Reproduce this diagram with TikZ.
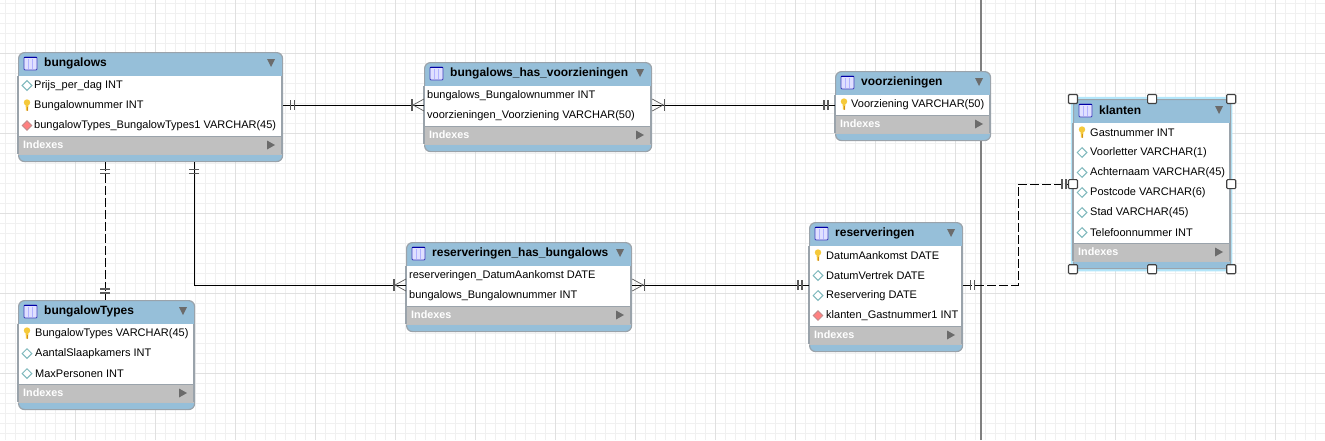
\documentclass[tikz,border=0pt]{standalone}
\usepackage{fontspec}
\setmainfont{Liberation Sans}
\usetikzlibrary{positioning}
\definecolor{headblue}{HTML}{96BFD9}
\definecolor{idxgray}{HTML}{C0C0C0}
\definecolor{edgegray}{HTML}{9AA3AB}
\definecolor{markgray}{HTML}{5A5A5A}
\definecolor{keygold}{HTML}{F5C93A}
\definecolor{colteal}{HTML}{7DB8BC}
\tikzset{
  minorline/.style={draw=black!6,line width=1pt},
  majorline/.style={draw=black!12,line width=1pt},
  tablebody/.style={draw=edgegray,fill=headblue,line width=1.2pt,rounded corners=6pt,
    anchor=north west,inner sep=0pt},
  titletxt/.style={anchor=west,inner sep=0pt,font=\fontsize{12}{13}\selectfont\bfseries},
  rowtxt/.style={anchor=west,inner sep=0pt,font=\fontsize{11}{12}\selectfont},
  idxtxt/.style={anchor=west,inner sep=0pt,text=white,font=\fontsize{10.8}{12}\selectfont\bfseries},
  link/.style={draw=black,line width=1pt},
  dashlink/.style={link,dash pattern=on 9pt off 3pt},
  handle/.style={draw=black!75,fill=white,line width=1.1pt,rounded corners=1pt,
    minimum size=9pt,inner sep=0pt},
  pics/onemark/.style={code={
    \draw[markgray,line width=1.3pt] (7,-5) -- (7,5) (11,-5) -- (11,5);
  }},
  pics/manymark/.style={code={
    \draw[markgray,line width=.7pt] (0,-6) -- (11,0) -- (0,6);
    \draw[markgray,line width=1.3pt] (12,-6) -- (12,6);
  }},
  pics/keyicon/.style={code={
    \fill[keygold] (0,-3) circle (3.2);
    \fill[keygold] (-1.5,-2) -- (1.5,-2) -- (1,5) -- (-1,5) -- cycle;
    \fill[orange!70!black,opacity=.5] (.3,1) rectangle (1,5);
  }},
  pics/colicon/.style={code={
    \draw[colteal,fill=white,line width=1pt] (-4.8,0) -- (0,-4.8) -- (4.8,0) -- (0,4.8) -- cycle;
  }},
  pics/fkicon/.style={code={
    \draw[red!30!gray!70,fill=red!50!white,line width=.8pt] (-4.8,0) -- (0,-4.8) -- (4.8,0) -- (0,4.8) -- cycle;
  }},
  pics/noicon/.style={code={}},
  pics/tableicon/.style={code={
    \draw[blue!50!gray,fill=blue!12!white,line width=.9pt,rounded corners=1pt] (0,0) rectangle (13,13);
    \fill[blue!65!black] (0,-.4) rectangle (13,1.4);
    \draw[blue!30!white,line width=.8pt] (4.3,2) -- (4.3,12.4) (8.6,2) -- (8.6,12.4);
  }},
}
% name, title, x, y, width, rows, column list
\newcommand{\ertable}[7]{
  \pgfmathsetmacro{\bodyh}{49+20*#6}
  \pgfmathsetmacro{\idxtop}{#4+24+20*#6}
  \node[tablebody,minimum width=#5pt,minimum height=\bodyh pt] (#1) at (#3,#4) {};
  \fill[white] (#3,#4+24) rectangle (#3+#5,\idxtop);
  \fill[idxgray] (#3,\idxtop) rectangle (#3+#5,\idxtop+18);
  \draw[edgegray,line width=1.2pt] (#3,#4+24) -- (#3,\idxtop+18)
    (#3+#5,#4+24) -- (#3+#5,\idxtop+18);
  \draw[edgegray,line width=1pt] (#3,\idxtop) -- (#3+#5,\idxtop);
  \draw[black!25,line width=.8pt] (#3,\idxtop+18) -- (#3+#5,\idxtop+18);
  \pic at (#3+6,#4+5) {tableicon};
  \node[titletxt] (#1-title) at (#3+26,#4+11.5) {#2};
  \fill[markgray!90] (#3+#5-15,#4+7) -- (#3+#5-7,#4+7) -- (#3+#5-11,#4+15) -- cycle;
  \node[idxtxt] (#1-idx) at (#3+5,\idxtop+8.5) {Indexes};
  \fill[markgray!90] (#3+#5-15,\idxtop+4.5) -- (#3+#5-7,\idxtop+9) -- (#3+#5-15,\idxtop+13.5) -- cycle;
  \foreach \kind/\pad/\rowlabel [count=\r] in {#7}{
    \pgfmathsetmacro{\rowy}{#4+24+20*\r-10.5}
    \edef\iconcmd{\noexpand\pic at (#3+9,\rowy) {\kind};}
    \iconcmd
    \node[rowtxt] (#1-row\r) at (#3+\pad,\rowy) {\rowlabel};
  }
}
\begin{document}
\begin{tikzpicture}[x=1pt,y=-1pt]
  \useasboundingbox (0,0) rectangle (1325,440);
  \foreach \gx in {5,15,...,1325} \draw[minorline] (\gx,0) -- (\gx,440);
  \foreach \gy in {3,13,...,440} \draw[minorline] (0,\gy) -- (1325,\gy);
  \foreach \gx in {75,155,...,1325} \draw[majorline] (\gx,0) -- (\gx,440);
  \foreach \gy in {53,133,...,440} \draw[majorline] (0,\gy) -- (1325,\gy);
  \draw[black!50,line width=2.4pt] (981,0) -- (981,440);

  \draw[draw=cyan!30,line width=4.5pt,rounded corners=2pt] (1073,99) rectangle (1230,269);

  \ertable{bungalows}{bungalows}{18}{52}{264}{3}
    {colicon/16/Prijs\_per\_dag INT,keyicon/16/Bungalownummer INT,
     fkicon/16/bungalowTypes\_BungalowTypes1 VARCHAR(45)}
  \ertable{hasvoorz}{bungalows\_has\_voorzieningen}{424}{62}{227}{2}
    {noicon/3/bungalows\_Bungalownummer INT,noicon/3/voorzieningen\_Voorziening VARCHAR(50)}
  \ertable{voorz}{voorzieningen}{835}{71}{155}{1}
    {keyicon/16/Voorziening VARCHAR(50)}
  \ertable{klanten}{klanten}{1073}{99}{157}{6}
    {keyicon/17/Gastnummer INT,colicon/17/Voorletter VARCHAR(1),colicon/17/Achternaam VARCHAR(45),
     colicon/17/Postcode VARCHAR(6),colicon/17/Stad VARCHAR(45),colicon/17/Telefoonnummer INT}
  \ertable{reserv}{reserveringen}{809}{222}{153}{4}
    {keyicon/17/DatumAankomst DATE,colicon/17/DatumVertrek DATE,colicon/17/Reservering DATE,
     fkicon/17/klanten\_Gastnummer1 INT}
  \ertable{hasbung}{reserveringen\_has\_bungalows}{406}{242}{225}{2}
    {noicon/3/reserveringen\_DatumAankomst DATE,noicon/3/bungalows\_Bungalownummer INT}
  \ertable{types}{bungalowTypes}{18}{300}{176}{3}
    {keyicon/17/BungalowTypes VARCHAR(45),colicon/17/AantalSlaapkamers INT,colicon/17/MaxPersonen INT}

  \coordinate (toprow) at (0,105);
  \coordinate (lowrow) at (0,285);
  \coordinate (klantrow) at (0,184);
  \coordinate (typecol) at (105,0);
  \coordinate (hascol) at (194,0);
  \coordinate (bend) at (1018,0);

  \path[link]
  (bungalows.east |- toprow) edge (hasvoorz.west |- toprow)
  (hasvoorz.east |- toprow) edge (voorz.west |- toprow)
  (hasbung.east |- lowrow) edge (reserv.west |- lowrow);
  \draw[link] (bungalows.south -| hascol) |- (hasbung.west |- lowrow);
  \draw[dashlink] (bungalows.south -| typecol) -- (types.north -| typecol);
  \draw[dashlink] (reserv.east |- lowrow) -- (bend |- lowrow) -- (bend |- klantrow) -- (klanten.west |- klantrow);

  \pic at (bungalows.east |- toprow) {onemark};
  \pic[rotate=180] at (hasvoorz.west |- toprow) {manymark};
  \pic at (hasvoorz.east |- toprow) {manymark};
  \pic[rotate=180] at (voorz.west |- toprow) {onemark};
  \pic[rotate=-90] at (bungalows.south -| typecol) {onemark};
  \pic[rotate=-90] at (bungalows.south -| hascol) {onemark};
  \pic[rotate=90] at (types.north -| typecol) {onemark};
  \pic[rotate=180] at (hasbung.west |- lowrow) {manymark};
  \pic at (hasbung.east |- lowrow) {manymark};
  \pic[rotate=180] at (reserv.west |- lowrow) {onemark};
  \pic at (reserv.east |- lowrow) {onemark};
  \pic[rotate=180] at (klanten.west |- klantrow) {onemark};

  \foreach \spot in {north west,north,north east,east,south east,south,south west,west}
    \node[handle] (grip \spot) at (klanten.\spot) {};
\end{tikzpicture}
\end{document}
